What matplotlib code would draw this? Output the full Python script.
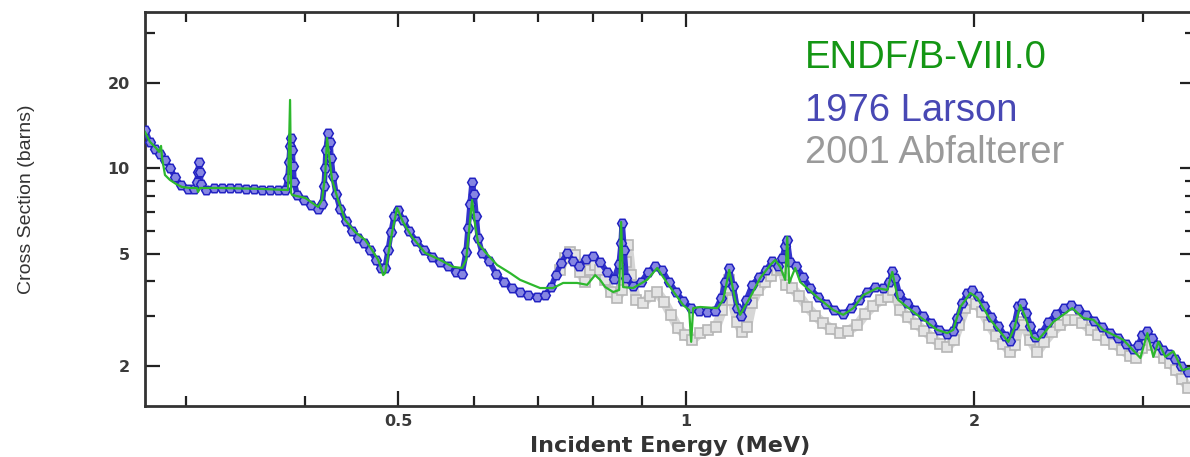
import matplotlib
matplotlib.use('Agg')
import matplotlib.pyplot as plt
from matplotlib.ticker import FixedLocator, FixedFormatter, NullFormatter

# ENDF/B-VIII.0 evaluation (energy in MeV, cross section in barns)
endf_e = [0.2721, 0.2754, 0.2794, 0.2814, 0.2828, 0.2835, 0.2855, 0.2889, 0.2931, 0.2974,
          0.3031, 0.3083, 0.3091, 0.3106, 0.3259, 0.3589, 0.3838, 0.3857, 0.3867, 0.3876,
          0.3999, 0.4126, 0.4166, 0.4197, 0.4216, 0.4236, 0.4267, 0.4329, 0.4402, 0.4510,
          0.4620, 0.4698, 0.4767, 0.4801, 0.4825, 0.4848, 0.4883, 0.4930, 0.4989, 0.5061,
          0.5172, 0.5338, 0.5533, 0.5708, 0.5833, 0.5890, 0.5947, 0.5976, 0.6019, 0.6063,
          0.6166, 0.6346, 0.6548, 0.6707, 0.7037, 0.7261, 0.7438, 0.7693, 0.7881, 0.8033,
          0.8130, 0.8230, 0.8389, 0.8511, 0.8552, 0.8593, 0.8802, 0.9103, 0.9326, 0.9552,
          0.9929, 1.0072, 1.0121, 1.0170, 1.0342, 1.0775, 1.0931, 1.1090, 1.1252, 1.1387,
          1.1665, 1.1948, 1.2241, 1.2388, 1.2537, 1.2689, 1.2751, 1.2812, 1.2999, 1.3156,
          1.3706, 1.4243, 1.4591, 1.4946, 1.5311, 1.5835, 1.6218, 1.6417, 1.6654, 1.7430,
          1.8289, 1.8734, 1.9011, 1.9333, 1.9807, 2.0142, 2.0781, 2.1701, 2.2014, 2.2336,
          2.2605, 2.2989, 2.3325, 2.4182, 2.5310, 2.5989, 2.6624, 2.7270, 2.8616, 2.9813,
          3.0318, 3.0761, 3.1132, 3.1659, 3.2278, 3.2984, 3.3620]
endf_xs = [13.46, 12.41, 11.81, 11.44, 12.01, 10.89, 9.48, 9.11, 8.82, 8.60,
           8.53, 8.53, 8.26, 8.53, 8.53, 8.47, 8.39, 17.46, 8.19, 8.06,
           7.87, 7.31, 7.74, 9.48, 12.82, 11.16, 9.11, 7.74, 6.58, 5.96,
           5.59, 5.15, 4.75, 4.45, 4.20, 4.27, 4.95, 5.96, 7.25, 6.47,
           5.73, 5.03, 4.75, 4.49, 4.45, 4.75, 6.58, 7.74, 6.32, 5.45,
           5.07, 4.56, 4.27, 4.04, 3.78, 3.78, 3.94, 3.94, 3.88, 4.20,
           4.04, 3.81, 3.66, 3.72, 6.47, 3.81, 3.78, 4.04, 4.45, 3.94,
           3.29, 3.16, 2.44, 3.21, 3.24, 3.21, 3.43, 4.38, 3.43, 3.04,
           3.51, 4.10, 4.56, 4.75, 4.49, 4.04, 5.73, 3.94, 4.45, 3.97,
           3.51, 3.16, 3.04, 3.21, 3.57, 3.78, 3.72, 4.31, 3.43, 3.04,
           2.69, 2.62, 2.69, 3.24, 3.63, 3.49, 2.92, 2.44, 2.73, 3.29,
           2.99, 2.54, 2.48, 2.87, 3.21, 2.96, 2.92, 2.69, 2.48, 2.14,
           2.62, 2.16, 2.44, 2.16, 2.26, 1.94, 1.97]

# 1976 Larson measurement
larson_e = [0.2721, 0.2754, 0.2787, 0.2821, 0.2855, 0.2889, 0.2924, 0.2967, 0.3018, 0.3062,
            0.3084, 0.3091, 0.3098, 0.3106, 0.3113, 0.3151, 0.3212, 0.3274, 0.3338, 0.3403,
            0.3469, 0.3536, 0.3605, 0.3676, 0.3747, 0.3811, 0.3838, 0.3847, 0.3857, 0.3867,
            0.3876, 0.3885, 0.3895, 0.3923, 0.3990, 0.4058, 0.4126, 0.4166, 0.4186, 0.4197,
            0.4206, 0.4226, 0.4246, 0.4257, 0.4277, 0.4308, 0.4350, 0.4413, 0.4477, 0.4542,
            0.4608, 0.4675, 0.4743, 0.4801, 0.4848, 0.4883, 0.4918, 0.4954, 0.5002, 0.5061,
            0.5135, 0.5222, 0.5324, 0.5427, 0.5533, 0.5640, 0.5750, 0.5833, 0.5890, 0.5918,
            0.5947, 0.5976, 0.6004, 0.6033, 0.6063, 0.6121, 0.6225, 0.6331, 0.6454, 0.6579,
            0.6707, 0.6837, 0.6987, 0.7120, 0.7224, 0.7311, 0.7400, 0.7511, 0.7620, 0.7731,
            0.7862, 0.7995, 0.8130, 0.8268, 0.8409, 0.8511, 0.8552, 0.8573, 0.8614, 0.8656,
            0.8802, 0.8973, 0.9126, 0.9280, 0.9437, 0.9598, 0.9762, 0.9929, 1.0121, 1.0318,
            1.0518, 1.0722, 1.0880, 1.0985, 1.1090, 1.1197, 1.1305, 1.1414, 1.1553, 1.1722,
            1.1920, 1.2121, 1.2299, 1.2480, 1.2600, 1.2689, 1.2751, 1.2843, 1.3030, 1.3250,
            1.3474, 1.3735, 1.4003, 1.4276, 1.4591, 1.4877, 1.5166, 1.5462, 1.5763, 1.6070,
            1.6305, 1.6417, 1.6536, 1.6697, 1.7021, 1.7352, 1.7690, 1.8034, 1.8386, 1.8734,
            1.9011, 1.9195, 1.9428, 1.9664, 1.9903, 2.0191, 2.0484, 2.0832, 2.1185, 2.1545,
            2.1806, 2.2014, 2.2226, 2.2441, 2.2658, 2.2877, 2.3154, 2.3491, 2.3890, 2.4351,
            2.4825, 2.5246, 2.5675, 2.6174, 2.6684, 2.7203, 2.7733, 2.8273, 2.8823, 2.9313,
            2.9666, 2.9952, 3.0318, 3.0684, 3.1056, 3.1507, 3.1965, 3.2430, 3.2901, 3.3460]
larson_xs = [13.68, 12.41, 11.72, 11.25, 10.72, 10.04, 9.33, 8.74, 8.47, 8.47,
             8.96, 9.72, 10.54, 9.72, 8.82, 8.39, 8.53, 8.53, 8.53, 8.53,
             8.47, 8.47, 8.39, 8.39, 8.39, 8.39, 9.26, 10.54, 12.01, 12.82,
             11.63, 10.20, 8.96, 8.06, 7.74, 7.43, 7.19, 7.49, 8.67, 10.04,
             11.63, 13.35, 12.41, 10.89, 9.41, 8.13, 7.19, 6.52, 6.02, 5.68,
             5.45, 5.15, 4.75, 4.45, 4.45, 5.15, 5.96, 6.80, 7.13, 6.58,
             6.02, 5.54, 5.15, 4.87, 4.67, 4.52, 4.31, 4.24, 5.07, 6.16,
             7.49, 8.96, 8.13, 6.80, 5.68, 5.03, 4.71, 4.24, 3.97, 3.78,
             3.66, 3.57, 3.51, 3.57, 3.81, 4.20, 4.64, 5.03, 4.71, 4.52,
             4.79, 4.91, 4.67, 4.31, 4.07, 4.60, 5.45, 6.42, 5.15, 4.10,
             3.84, 3.97, 4.31, 4.52, 4.38, 3.97, 3.66, 3.40, 3.21, 3.14,
             3.11, 3.14, 3.49, 3.97, 4.45, 3.84, 3.21, 3.01, 3.43, 3.88,
             4.14, 4.38, 4.71, 4.52, 4.83, 5.32, 5.59, 4.67, 4.52, 4.14,
             3.78, 3.51, 3.32, 3.16, 3.06, 3.21, 3.43, 3.66, 3.81, 3.78,
             3.97, 4.34, 4.10, 3.60, 3.35, 3.16, 3.01, 2.84, 2.69, 2.60,
             2.67, 2.96, 3.35, 3.63, 3.72, 3.54, 3.27, 2.99, 2.78, 2.56,
             2.46, 2.80, 3.27, 3.35, 3.09, 2.78, 2.54, 2.62, 2.87, 3.06,
             3.21, 3.29, 3.19, 3.04, 2.89, 2.75, 2.62, 2.52, 2.40, 2.30,
             2.38, 2.58, 2.67, 2.52, 2.38, 2.28, 2.21, 2.12, 2.00, 1.91]

# 2001 Abfalterer measurement
abf_e = [0.7382, 0.7471, 0.7562, 0.7653, 0.7746, 0.7840, 0.7938, 0.8033, 0.8130, 0.8230,
         0.8349, 0.8470, 0.8573, 0.8656, 0.8698, 0.8761, 0.8867, 0.9017, 0.9170, 0.9326,
         0.9484, 0.9645, 0.9809, 0.9976, 1.0145, 1.0342, 1.0544, 1.0748, 1.0906, 1.1011,
         1.1090, 1.1171, 1.1305, 1.1441, 1.1581, 1.1722, 1.1892, 1.2092, 1.2267, 1.2450,
         1.2570, 1.2720, 1.2906, 1.3125, 1.3382, 1.3642, 1.3907, 1.4178, 1.4490, 1.4770,
         1.5094, 1.5387, 1.5685, 1.5989, 1.6257, 1.6454, 1.6735, 1.7061, 1.7394, 1.7732,
         1.8077, 1.8430, 1.8734, 1.9057, 1.9288, 1.9567, 1.9807, 2.0094, 2.0386, 2.0730,
         2.1079, 2.1433, 2.1806, 2.2066, 2.2280, 2.2549, 2.2877, 2.3266, 2.3662, 2.4126,
         2.4590, 2.5069, 2.5500, 2.5936, 2.6448, 2.6953, 2.7468, 2.8003, 2.8548, 2.9100,
         2.9523, 2.9952, 3.0318, 3.0684, 3.1132, 3.1583, 3.2043, 3.2508, 3.2984, 3.3460]
abf_xs = [4.38, 4.83, 5.07, 4.95, 4.31, 3.97, 4.38, 4.56, 4.38, 4.04,
          3.66, 3.49, 3.72, 4.67, 5.37, 4.20, 3.43, 3.35, 3.54, 3.66,
          3.38, 3.04, 2.73, 2.58, 2.48, 2.62, 2.69, 2.75, 3.16, 3.78,
          4.04, 3.43, 2.87, 2.64, 2.75, 3.35, 3.72, 3.97, 4.17, 4.38,
          4.45, 3.88, 3.78, 3.54, 3.24, 3.01, 2.84, 2.71, 2.62, 2.67,
          2.80, 3.06, 3.27, 3.43, 3.51, 3.72, 3.16, 2.99, 2.82, 2.67,
          2.52, 2.40, 2.34, 2.48, 2.80, 3.21, 3.43, 3.32, 3.11, 2.80,
          2.56, 2.40, 2.25, 2.38, 2.87, 2.80, 2.48, 2.25, 2.44, 2.64,
          2.80, 2.92, 2.92, 2.84, 2.69, 2.58, 2.48, 2.40, 2.28, 2.18,
          2.14, 2.32, 2.48, 2.38, 2.25, 2.14, 2.05, 1.94, 1.80, 1.68]

x_ticks = [0.5, 1, 2]
x_tick_labels = ['0.5', '1', '2']
x_minor = [0.3, 0.4, 0.6, 0.7, 0.8, 0.9, 3]
y_ticks = [2, 5, 10, 20]
y_tick_labels = ['2', '5', '10', '20']
y_minor = [3, 4, 6, 7, 8, 9, 30]

legend_labels = ['ENDF/B-VIII.0', '1976 Larson', '2001 Abfalterer']
legend_colors = ['#149614', '#4848b4', '#9a9a9a']

fig = plt.figure(figsize=(11.9, 4.57), dpi=100)
ax = fig.add_axes([145 / 1190, 51 / 457, 1050 / 1190, 394 / 457])
ax.set_xscale('log')
ax.set_yscale('log')

# Abfalterer (grey squares), behind
ax.plot(abf_e, abf_xs, color='#d6d6d6', lw=7, zorder=1, solid_capstyle='round', solid_joinstyle='round')
ax.plot(abf_e, abf_xs, ls='none', marker='s', ms=7.5, mfc='#e4e4e4', mec='#b6b6b6', mew=1.2, zorder=2)

# Larson (blue markers)
ax.plot(larson_e, larson_xs, color='#3434cc', lw=4, zorder=3, solid_capstyle='round', solid_joinstyle='round')
ax.plot(larson_e, larson_xs, ls='none', marker='H', ms=7, mfc='#8686e2', mec='#2222c2', mew=1.1, zorder=4)

# ENDF/B-VIII.0 evaluation
ax.plot(endf_e, endf_xs, color='#2db82d', lw=1.6, zorder=5)

ax.set_xlim(0.2721, 3.40)
ax.set_ylim(1.448, 35.7)

ax.xaxis.set_major_locator(FixedLocator(x_ticks))
ax.xaxis.set_major_formatter(FixedFormatter(x_tick_labels))
ax.xaxis.set_minor_locator(FixedLocator(x_minor))
ax.xaxis.set_minor_formatter(NullFormatter())
ax.yaxis.set_major_locator(FixedLocator(y_ticks))
ax.yaxis.set_major_formatter(FixedFormatter(y_tick_labels))
ax.yaxis.set_minor_locator(FixedLocator(y_minor))
ax.yaxis.set_minor_formatter(NullFormatter())

ax.tick_params(which='both', direction='in', top=True, right=True, color='#222222', width=1.6)
ax.tick_params(which='major', length=11)
ax.tick_params(which='minor', length=7)
ax.tick_params(axis='x', which='major', pad=6)
ax.tick_params(axis='y', which='major', pad=11)
for lab in ax.get_xticklabels() + ax.get_yticklabels():
    lab.set_fontsize(11.5)
    lab.set_fontweight('bold')
    lab.set_color('#3a3a3a')
for s in ax.spines.values():
    s.set_linewidth(2)
    s.set_color('#333333')

fig.text(670 / 1190, 1 - 446 / 457, 'Incident Energy (MeV)', ha='center', va='center',
         fontsize=16, fontweight='bold', color='#333333')
fig.text(27 / 1190, 1 - 199 / 457, 'Cross Section (barns)', rotation=90, ha='center', va='center',
         fontsize=14, color='#333333', family=['Liberation Sans', 'DejaVu Sans'])

baselines = [68, 121, 163]
for lab, col, b in zip(legend_labels, legend_colors, baselines):
    fig.text(805 / 1190, 1 - b / 457, lab, color=col, fontsize=27.5, va='baseline', ha='left',
             family=['Liberation Sans', 'DejaVu Sans'])

fig.savefig('out.png', dpi=100)
